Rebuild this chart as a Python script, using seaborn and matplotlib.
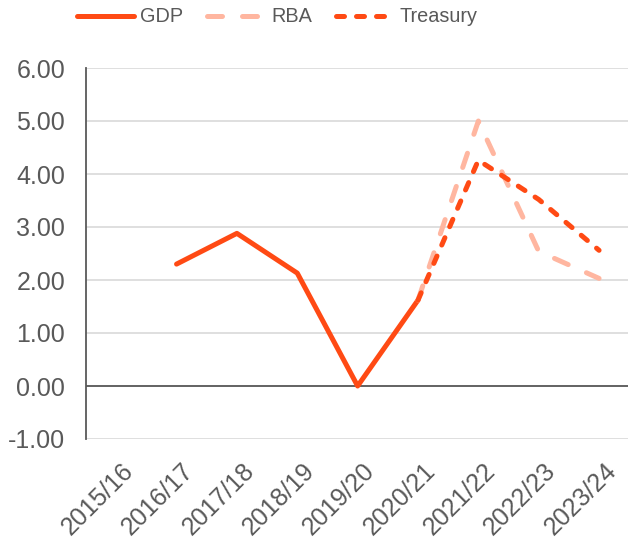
import numpy as np
import pandas as pd
import matplotlib
matplotlib.use("Agg")
import matplotlib.pyplot as plt
import matplotlib.transforms as mtransforms
import seaborn as sns

years = ["2015/16", "2016/17", "2017/18", "2018/19", "2019/20",
         "2020/21", "2021/22", "2022/23", "2023/24"]
gdp = [np.nan, 2.30, 2.88, 2.13, 0.00, 1.62, np.nan, np.nan, np.nan]
rba = [np.nan, np.nan, np.nan, np.nan, np.nan, 1.62, 5.00, 2.54, 2.03]
treasury = [np.nan, np.nan, np.nan, np.nan, np.nan, 1.62, 4.26, 3.52, 2.56]

sns.set_theme(style="white")
plt.rcParams["font.family"] = ["Liberation Sans", "DejaVu Sans"]

dark = "#FF4A14"
light = "#FFB6A0"
text_col = "#595959"

fig = plt.figure(figsize=(6.28, 5.45), dpi=100)
ax = fig.add_axes([86 / 628, 1 - 439 / 545, 1 - 86 / 628 + 0.002, (439 - 68) / 545])

pos = np.arange(len(years))
df = pd.DataFrame({"pos": pos, "GDP": gdp, "RBA": rba, "Treasury": treasury})

lw = 3.6
sns.lineplot(data=df, x="pos", y="GDP", ax=ax, color=dark, linewidth=lw,
             label="GDP", solid_capstyle="round")
sns.lineplot(data=df, x="pos", y="RBA", ax=ax, color=light, linewidth=lw,
             label="RBA", dashes=False)
sns.lineplot(data=df, x="pos", y="Treasury", ax=ax, color=dark, linewidth=lw,
             label="Treasury", dashes=False)

lines = ax.get_lines()
lines[1].set_dashes([3, 4])
lines[1].set_dash_capstyle("round")
lines[2].set_dashes([1.6, 2.4])
lines[2].set_dash_capstyle("round")
# RBA sits behind Treasury
lines[1].set_zorder(2)
lines[2].set_zorder(3)

ax.set_xlim(-0.5, len(years) - 0.5)
ax.set_ylim(-1, 6)
ax.set_yticks(np.arange(-1, 7, 1))
ax.set_yticklabels([f"{v:.2f}" for v in np.arange(-1, 7, 1)])
ax.set_xticks(pos)
ax.set_xticklabels(years, rotation=45, ha="right", rotation_mode="anchor")
ax.set_xlabel("")
ax.set_ylabel("")

ax.grid(axis="y", color="#D9D9D9", linewidth=1.2)
ax.grid(axis="x", visible=False)
ax.axhline(0, color="#595959", linewidth=1.3, zorder=1.5)

for s in ["top", "right", "bottom"]:
    ax.spines[s].set_visible(False)
ax.spines["left"].set_color("#595959")
ax.spines["left"].set_linewidth(1.3)

ax.tick_params(axis="both", length=0, labelsize=18, colors=text_col)
ax.tick_params(axis="y", pad=15)
ax.tick_params(axis="x", pad=14)

# nudge the slanted year labels a little to the right
shift = mtransforms.ScaledTranslation(5 / 100, 0, fig.dpi_scale_trans)
for lab in ax.get_xticklabels():
    lab.set_transform(lab.get_transform() + shift)

ax.get_legend().remove()
handles = lines[:3]
leg = fig.legend(handles, ["GDP", "RBA", "Treasury"], loc="center",
                 bbox_to_anchor=(277 / 628, 1 - 17 / 545), ncol=3, frameon=False,
                 fontsize=14.3, handlelength=2.9, handletextpad=0.3, columnspacing=1.2,
                 labelcolor=text_col)

fig.savefig("out.png", dpi=100)
